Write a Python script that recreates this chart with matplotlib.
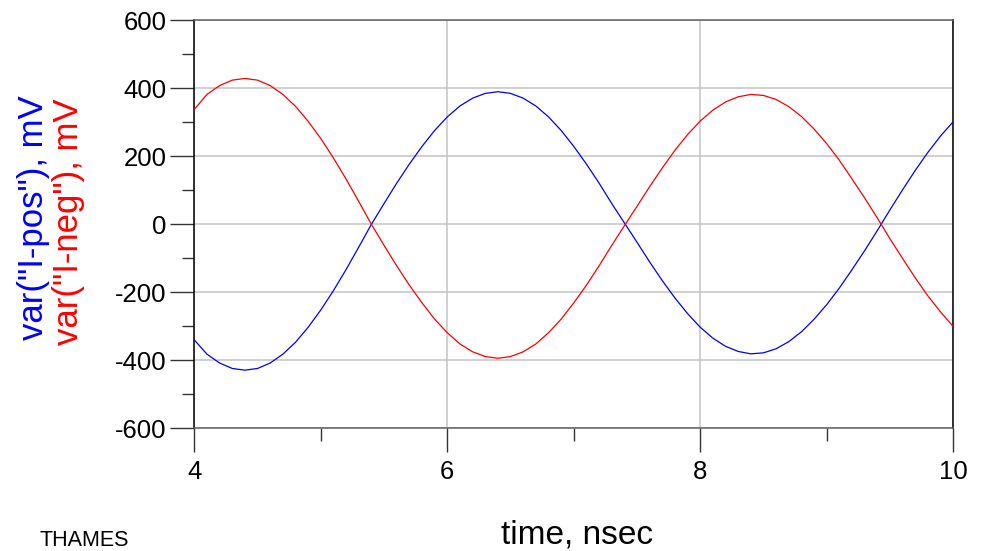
import matplotlib
matplotlib.use("Agg")
import matplotlib.pyplot as plt
from matplotlib.ticker import MultipleLocator

plt.rcParams["font.family"] = ["Liberation Sans", "DejaVu Sans"]
plt.rcParams["axes.unicode_minus"] = False

# time axis, nsec (0.1 ns steps)
time_ns = [round(4.0 + 0.1 * i, 1) for i in range(61)]

i_pos = [
    -340, -382, -408, -424, -429, -424, -408, -382, -347, -303,
    -252, -195, -133, -67, 0, 61, 121, 177, 229, 276,
    316, 348, 371, 385, 390, 385, 371, 348, 316, 276,
    229, 177, 121, 61, 4, -53, -111, -166, -217, -263,
    -303, -335, -359, -374, -381, -378, -366, -345, -316, -279,
    -236, -187, -133, -77, -18, 43, 102, 159, 212, 260,
    302,
]

i_neg = [
    338, 382, 408, 424, 429, 424, 408, 382, 347, 303,
    252, 195, 133, 67, 0, -62, -122, -179, -231, -279,
    -319, -352, -375, -389, -394, -389, -375, -352, -319, -279,
    -231, -179, -122, -62, -4, 53, 111, 166, 218, 264,
    304, 336, 360, 375, 382, 379, 367, 346, 317, 280,
    237, 188, 133, 77, 18, -43, -101, -158, -211, -258,
    -301,
]

W, H = 981, 551
fig = plt.figure(figsize=(W / 100, H / 100), dpi=100)
ax = fig.add_axes([194.3 / W, 122.7 / H, 759 / W, 408 / H])

ax.plot(time_ns, i_pos, color="#0000ff", lw=0.9, zorder=3)
ax.plot(time_ns, i_neg, color="#ff0000", lw=0.9, zorder=3)

ax.set_xlim(4, 10)
ax.set_ylim(-600, 600)
ax.xaxis.set_major_locator(MultipleLocator(2))
ax.xaxis.set_minor_locator(MultipleLocator(1))
ax.yaxis.set_major_locator(MultipleLocator(200))
ax.yaxis.set_minor_locator(MultipleLocator(100))

ax.grid(which="major", color="#c4c4c4", lw=1.1, zorder=0)

ax.tick_params(axis="both", which="major", direction="out", length=17.5,
               width=1.0, labelsize=18.5, color="#333333")
ax.tick_params(axis="both", which="minor", direction="out", length=9,
               width=1.0, color="#333333")
ax.tick_params(axis="y", which="major", pad=2.5)
ax.tick_params(axis="x", which="major", pad=5)

ax.spines["left"].set_color("black")
ax.spines["right"].set_color("black")
ax.spines["top"].set_color("#606060")
ax.spines["bottom"].set_color("#606060")
for s in ax.spines.values():
    s.set_linewidth(1.1)

fig.text(43.3 / W, 1 - 218 / H, 'var("I-pos"), mV', color="#0000ff",
         fontsize=25, rotation=90, rotation_mode="anchor",
         ha="center", va="baseline")
fig.text(78 / W, 1 - 222 / H, 'var("I-neg"), mV', color="#ff0000",
         fontsize=25, rotation=90, rotation_mode="anchor",
         ha="center", va="baseline")

fig.text(577 / W, 1 - 544 / H, "time, nsec", fontsize=24,
         ha="center", va="baseline")
fig.text(40 / W, 1 - 546 / H, "THAMES", fontsize=15.5,
         ha="left", va="baseline")

fig.savefig("out.png", dpi=100)
